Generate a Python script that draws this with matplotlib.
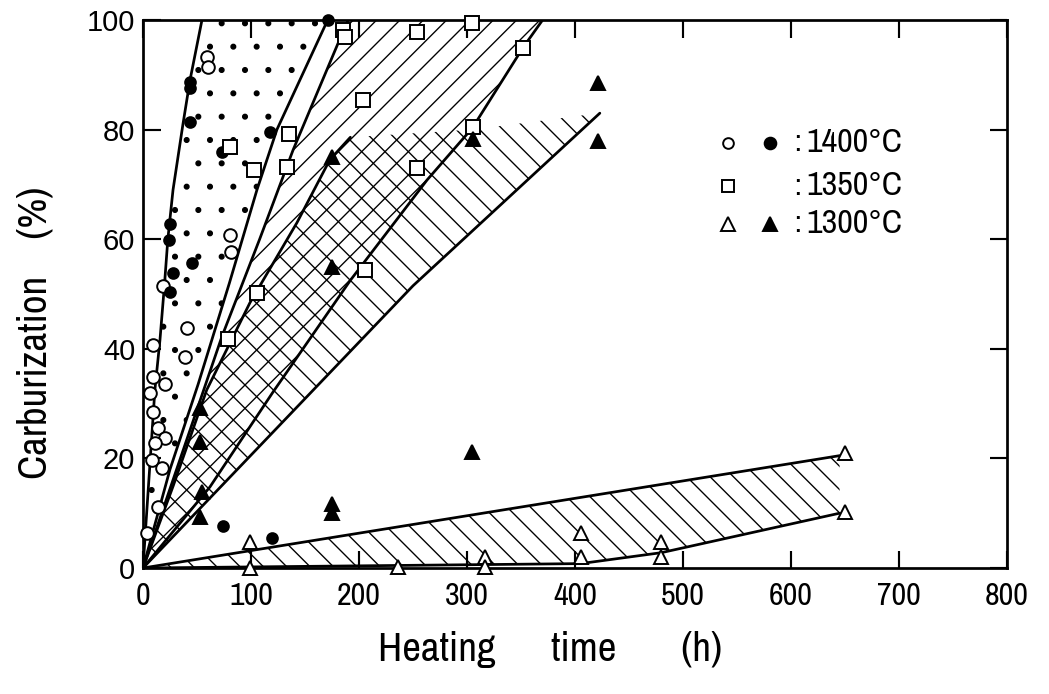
import matplotlib
matplotlib.use('Agg')
import matplotlib.pyplot as plt
from matplotlib import font_manager
import numpy as np

# ---------------- data ----------------
c1400_open_x = [59, 60, 80.5, 81.5, 18.5, 40.7, 39, 9.3, 9.3, 20.4, 6.5, 9.3, 13.9, 20.4, 11, 8.3, 17.6, 13.9, 3.7]
c1400_open_y = [93.2, 91.4, 60.8, 57.7, 51.5, 43.8, 38.5, 40.7, 34.9, 33.6, 32.0, 28.5, 25.5, 23.7, 22.8, 19.7, 18.2, 11.1, 6.4]
c1400_fill_x = [43.5, 43.5, 43.5, 117.6, 73, 171, 25, 24, 45, 28, 25, 74, 119.5]
c1400_fill_y = [88.7, 87.6, 81.4, 79.6, 76, 100, 62.8, 59.9, 55.6, 53.8, 50.3, 7.7, 5.5]
c1350_x = [185, 187, 254, 305, 352, 305.5, 204, 135, 80.5, 103, 133, 254, 205.5, 105.5, 79]
c1350_y = [98.2, 96.9, 97.8, 99.5, 94.9, 80.5, 85.4, 79.2, 76.8, 72.6, 73.2, 73.0, 54.4, 50.2, 41.8]
c1300_open_x = [99, 99, 236, 316.7, 316.7, 406, 406, 480, 480, 650, 650]
c1300_open_y = [4.7, 0.0, 0.2, 2.0, 0.2, 6.4, 2.0, 4.8, 2.0, 21.0, 10.2]
c1300_fill_x = [175, 175, 53, 53, 54.5, 53, 175, 175, 304.6, 305.5, 421, 421]
c1300_fill_y = [75, 55, 29.2, 23, 13.9, 9.3, 11.6, 10.0, 21.2, 78.3, 88.5, 78.0]

line_a_x = [0, 11, 15.7, 20, 23, 27.8, 37, 43.5, 54.6]
line_a_y = [0, 32.5, 41.6, 52, 60, 69, 81, 89, 100]
line_b_x = [0, 25, 51, 80, 105.5, 124, 171]
line_b_y = [0, 18, 33.5, 52, 69, 80, 100]
line_c_x = [0, 73, 108, 139, 182, 190]
line_c_y = [0, 42.2, 60, 76.3, 96.4, 100]
line_d_x = [0, 28, 59, 99, 142.5, 173, 192]
line_d_y = [0, 15, 32.5, 48.4, 63, 74.5, 78.6]
line_e_x = [0, 62, 120, 192, 263, 305, 352, 370]
line_e_y = [0, 14.8, 32, 52.5, 70.8, 80.3, 95, 100]
line_f_x = [0, 250, 423]
line_f_y = [0, 51.5, 83]
top_1300_x = [192, 305, 423]
top_1300_y = [78.6, 80.0, 83.0]
band_up_x = [0, 645]
band_up_y = [0, 20.5]
band_lo_x = [0, 405, 480, 645]
band_lo_y = [0, 0.8, 2.8, 10.0]

x_ticks = [0, 100, 200, 300, 400, 500, 600, 700, 800]
y_ticks = [0, 20, 40, 60, 80, 100]
legend_labels = ['1400°C', '1350°C', '1300°C']

# ---------------- fonts ----------------
entries = font_manager.fontManager.ttflist
names = {f.name for f in entries}
narrow, nstretch = None, 'normal'
for f in entries:
    if 'Narrow' in f.name or 'Condensed' in f.name:
        narrow = f.name
        break
if narrow is None:
    for f in entries:
        if str(f.stretch) in ('condensed', 'semi-condensed', 'extra-condensed') and f.style == 'normal':
            narrow, nstretch = f.name, str(f.stretch)
            break
if narrow is None:
    narrow = 'Roboto' if 'Roboto' in names else 'DejaVu Sans'
regular = 'Liberation Sans' if 'Liberation Sans' in names else 'DejaVu Sans'

plt.rcParams['hatch.linewidth'] = 0.7

DPI = 140
fig = plt.figure(figsize=(1049 / DPI, 694 / DPI), dpi=DPI)
ax = fig.add_axes([143 / 1049, 126 / 694, 864 / 1049, 548 / 694])
ax.set_xlim(0, 800)
ax.set_ylim(0, 100)

def poly(xs, ys, hatch):
    ax.fill(xs, ys, facecolor='none', edgecolor='black', linewidth=0, hatch=hatch, zorder=1)

poly(line_a_x + line_b_x[::-1], line_a_y + line_b_y[::-1], '.')
poly(line_c_x + line_e_x[::-1], line_c_y + line_e_y[::-1], '//')
poly(line_d_x + top_1300_x[1:] + line_f_x[::-1][1:], line_d_y + top_1300_y[1:] + line_f_y[::-1][1:], '\\\\')
poly(band_up_x + band_lo_x[::-1], band_up_y + band_lo_y[::-1], '\\\\')

for lx, ly in [(line_a_x, line_a_y), (line_b_x, line_b_y), (line_c_x, line_c_y),
               (line_d_x, line_d_y), (line_e_x, line_e_y), (line_f_x, line_f_y),
               (band_up_x, band_up_y), (band_lo_x, band_lo_y)]:
    ax.plot(lx, ly, color='black', lw=1.4, zorder=2, solid_capstyle='round')

mk = dict(linestyle='none', color='black', mec='black', mew=1.0, clip_on=False, zorder=4)
ax.plot(c1400_open_x, c1400_open_y, marker='o', ms=6.5, mfc='white', **mk)
ax.plot(c1400_fill_x, c1400_fill_y, marker='o', ms=5.5, mfc='black', **mk)
ax.plot(c1350_x, c1350_y, marker='s', ms=7, mfc='white', **mk)
ax.plot(c1300_open_x, c1300_open_y, marker='^', ms=7.5, mfc='white', **mk)
ax.plot(c1300_fill_x, c1300_fill_y, marker='^', ms=7.5, mfc='black', **mk)

lx1, lx2, lxc, lxt = 0.677, 0.726, 0.757, 0.768
lys = [0.776, 0.697, 0.628]
lm = dict(linestyle='none', color='black', mec='black', mew=1.0, transform=ax.transAxes, clip_on=False, zorder=5)
ax.plot([lx1], [lys[0]], marker='o', ms=5.5, mfc='white', **lm)
ax.plot([lx2], [lys[0]], marker='o', ms=6, mfc='black', **lm)
ax.plot([lx1], [lys[1]], marker='s', ms=6.5, mfc='white', **lm)
ax.plot([lx1], [lys[2]], marker='^', ms=7, mfc='white', **lm)
ax.plot([lx2], [lys[2]], marker='^', ms=7.5, mfc='black', **lm)
for yy, lab in zip(lys, legend_labels):
    ax.text(lxc, yy, ':', transform=ax.transAxes, ha='center', va='center',
            fontsize=15, fontweight='bold', family=narrow, fontstretch=nstretch)
    ax.text(lxt, yy, lab, transform=ax.transAxes, ha='left', va='center',
            fontsize=17.5, family=narrow, fontstretch=nstretch)

for sp in ax.spines.values():
    sp.set_linewidth(1.4)
ax.set_xticks(x_ticks)
ax.set_yticks(y_ticks)
ax.tick_params(direction='in', length=9, width=1.1, top=True, right=True)
ax.tick_params(axis='x', pad=7)
ax.tick_params(axis='y', pad=4)
ax.set_xticklabels([str(v) for v in x_ticks], family=narrow, fontstretch=nstretch, fontsize=16.5)
ax.set_yticklabels([str(v) for v in y_ticks], family=regular, fontsize=15)

fig.text(550 / 1049, 1 - 650 / 694, 'Heating      time       (h)', ha='center', va='center',
         family=narrow, fontstretch=nstretch, fontsize=21)
fig.text(35 / 1049, 1 - 333 / 694, 'Carburization    (%)', ha='center', va='center', rotation=90,
         family=narrow, fontstretch=nstretch, fontsize=21)

fig.savefig('out.png', dpi=DPI)
